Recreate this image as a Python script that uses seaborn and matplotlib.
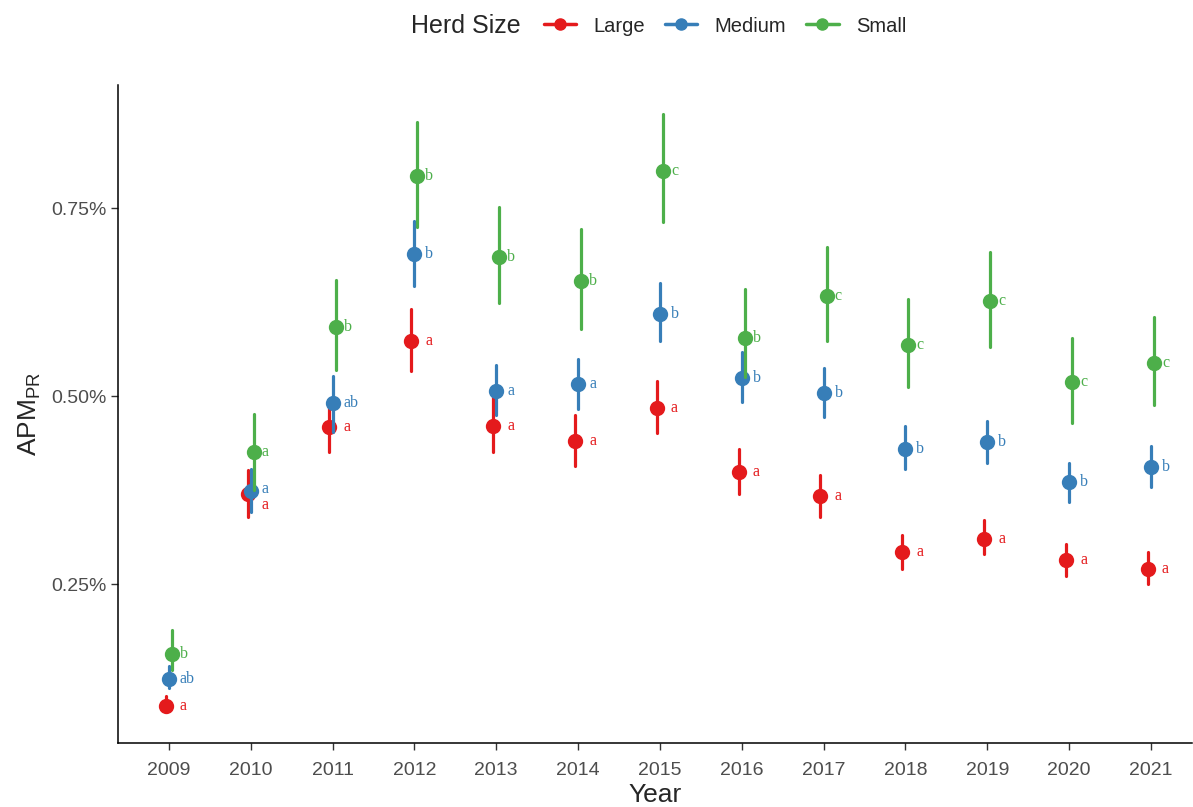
import matplotlib
matplotlib.use("Agg")
import matplotlib.pyplot as plt
from matplotlib.lines import Line2D
from matplotlib.ticker import PercentFormatter
import pandas as pd
import seaborn as sns

# values (percent)
years = ['2009', '2010', '2011', '2012', '2013', '2014', '2015',
         '2016', '2017', '2018', '2019', '2020', '2021']
herds = ['Large', 'Medium', 'Small']

large_est = [0.089, 0.370, 0.459, 0.573, 0.460, 0.440, 0.485, 0.399, 0.367, 0.293, 0.311, 0.282, 0.270]
large_lo = [0.080, 0.340, 0.426, 0.533, 0.426, 0.407, 0.451, 0.370, 0.339, 0.270, 0.290, 0.261, 0.251]
large_hi = [0.102, 0.402, 0.497, 0.616, 0.501, 0.475, 0.520, 0.430, 0.396, 0.316, 0.336, 0.304, 0.293]

medium_est = [0.125, 0.374, 0.491, 0.689, 0.507, 0.516, 0.610, 0.524, 0.504, 0.430, 0.439, 0.386, 0.406]
medium_lo = [0.112, 0.346, 0.452, 0.646, 0.475, 0.483, 0.574, 0.492, 0.473, 0.403, 0.411, 0.359, 0.379]
medium_hi = [0.142, 0.404, 0.527, 0.733, 0.541, 0.550, 0.650, 0.559, 0.537, 0.460, 0.467, 0.412, 0.434]

small_est = [0.157, 0.426, 0.592, 0.793, 0.685, 0.653, 0.799, 0.578, 0.633, 0.568, 0.626, 0.519, 0.544]
small_lo = [0.136, 0.375, 0.535, 0.725, 0.624, 0.590, 0.731, 0.525, 0.573, 0.512, 0.565, 0.465, 0.489]
small_hi = [0.189, 0.477, 0.654, 0.864, 0.751, 0.722, 0.875, 0.642, 0.699, 0.629, 0.692, 0.578, 0.606]

large_letters = ['a'] * 13
medium_letters = ['ab', 'a', 'ab', 'b', 'a', 'a', 'b', 'b', 'b', 'b', 'b', 'b', 'b']
small_letters = ['b', 'a', 'b', 'b', 'b', 'b', 'c', 'b', 'c', 'c', 'c', 'c', 'c']

colors = {'Large': '#E41A1C', 'Medium': '#377EB8', 'Small': '#4DAF4A'}

series = {
    'Large': (large_lo, large_est, large_hi, large_letters),
    'Medium': (medium_lo, medium_est, medium_hi, medium_letters),
    'Small': (small_lo, small_est, small_hi, small_letters),
}

# long table: low / estimate / high per cell -> median + full range gives the interval
rows = []
for herd, (lo, est, hi, _) in series.items():
    for i, yr in enumerate(years):
        for v in (lo[i], est[i], hi[i]):
            rows.append({'Year': yr, 'Herd Size': herd, 'value': v})
df = pd.DataFrame(rows)

sns.set_style("white")
plt.rcParams['font.family'] = ['Liberation Sans', 'DejaVu Sans']
plt.rcParams['mathtext.default'] = 'regular'

fig = plt.figure(figsize=(11.93, 8.07), dpi=100)
ax = fig.add_axes([0.099, 0.079, 0.9, 0.816])

sns.pointplot(data=df, x='Year', y='value', hue='Herd Size', order=years, hue_order=herds,
              palette=colors, estimator='median', errorbar=('pi', 100), dodge=True,
              linestyle='none', markers='o', markersize=9,
              err_kws={'linewidth': 2.3}, ax=ax)
ax.get_legend().remove()

# significance letters (small nudge where two labels collide)
nudge = {('Large', 1): -0.014, ('Medium', 1): 0.003}
for herd, (lo, est, hi, letters) in series.items():
    for i, lab in enumerate(letters):
        ax.text(i + 0.135, est[i] + nudge.get((herd, i), 0), lab, color=colors[herd],
                fontsize=11.5, family='Liberation Serif', ha='left', va='center')

ax.set_xlim(-0.62, 12.5)
ax.set_ylim(0.039, 0.914)
ax.set_yticks([0.25, 0.50, 0.75])
ax.yaxis.set_major_formatter(PercentFormatter(xmax=100, decimals=2))

sns.despine(ax=ax)
for s in ['left', 'bottom']:
    ax.spines[s].set_color('black')
    ax.spines[s].set_linewidth(1.1)
ax.tick_params(axis='both', length=5, width=1, color='#333333', labelsize=14,
               labelcolor='#4d4d4d', bottom=True, left=True)
ax.tick_params(axis='x', pad=8.5)

ax.set_xlabel('Year', fontsize=19, labelpad=3)
ax.set_ylabel(r'APM$_{PR}$', fontsize=19, labelpad=6)

# legend at the top, title inline on the left
fig.text(411 / 1193, 1 - 26 / 807, 'Herd Size', fontsize=18, ha='left', va='center')
handles = [Line2D([0], [0], color=colors[h], marker='o', markersize=8, linewidth=2.5) for h in herds]
fig.legend(handles, herds, loc='center left', bbox_to_anchor=(526 / 1193, 1 - 26 / 807),
           ncol=3, frameon=False, fontsize=14.5, handlelength=1.6, handletextpad=0.85,
           columnspacing=1.0)

fig.savefig('out.png', dpi=100)
